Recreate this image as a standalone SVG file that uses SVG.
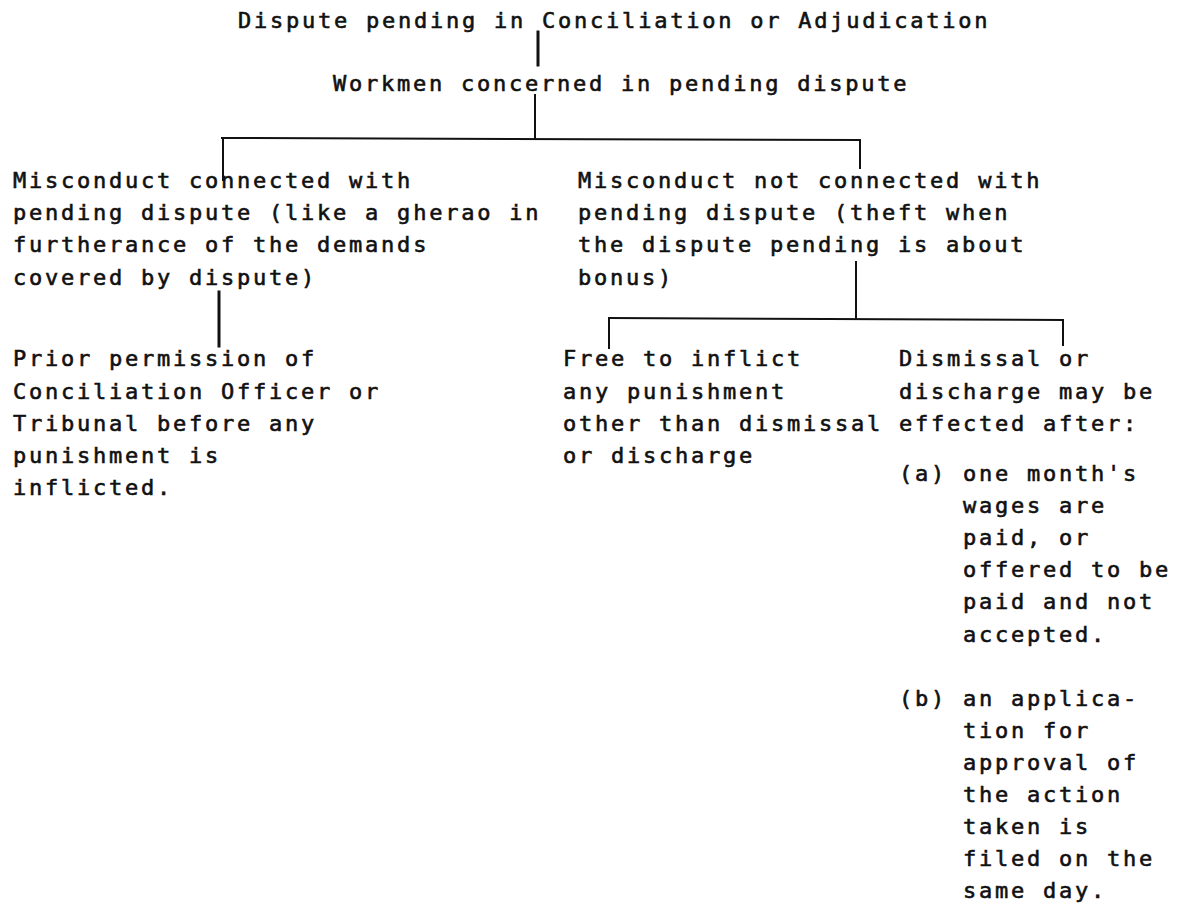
<svg xmlns="http://www.w3.org/2000/svg" width="1185" height="911" viewBox="0 0 1185 911">
<style>
text{font-family:"DejaVu Sans Mono","Liberation Mono",monospace;font-size:22px;letter-spacing:2.76px;fill:#111;stroke:#111;stroke-width:0.6px;}
.c{stroke:#111;stroke-width:2;fill:none;stroke-linecap:square}
.t{stroke-width:3}
</style>
<rect width="1185" height="911" fill="#fff"/>
<g id="connectors">
<line class="c t" x1="538" y1="32" x2="538" y2="65"/>
<line class="c" x1="535" y1="95" x2="535" y2="139"/>
<line class="c" x1="222" y1="138" x2="860" y2="140"/>
<line class="c" x1="223" y1="138" x2="223" y2="180"/>
<line class="c" x1="860" y1="140" x2="860" y2="168"/>
<line class="c t" x1="219" y1="292" x2="219" y2="346"/>
<line class="c" x1="856" y1="262" x2="856" y2="318"/>
<line class="c" x1="609" y1="318" x2="1063" y2="320"/>
<line class="c" x1="609" y1="318" x2="609" y2="348"/>
<line class="c" x1="1063" y1="320" x2="1063" y2="345"/>
</g>
<g id="n-dispute"><text x="238" y="28">Dispute pending in Conciliation or Adjudication</text></g>
<g id="n-workmen"><text x="333" y="91">Workmen concerned in pending dispute</text></g>
<g id="n-connected">
<text x="13" y="188">Misconduct connected with</text>
<text x="13" y="220">pending dispute (like a gherao in</text>
<text x="13" y="252">furtherance of the demands</text>
<text x="13" y="285">covered by dispute)</text>
</g>
<g id="n-notconnected">
<text x="578" y="188">Misconduct not connected with</text>
<text x="578" y="220">pending dispute (theft when</text>
<text x="578" y="252">the dispute pending is about</text>
<text x="578" y="285">bonus)</text>
</g>
<g id="n-prior">
<text x="13" y="366">Prior permission of</text>
<text x="13" y="399">Conciliation Officer or</text>
<text x="13" y="431">Tribunal before any</text>
<text x="13" y="463">punishment is</text>
<text x="13" y="495">inflicted.</text>
</g>
<g id="n-free">
<text x="563" y="366">Free to inflict</text>
<text x="563" y="399">any punishment</text>
<text x="563" y="431">other than dismissal</text>
<text x="563" y="463">or discharge</text>
</g>
<g id="n-dismissal">
<text x="899" y="366">Dismissal or</text>
<text x="899" y="399">discharge may be</text>
<text x="899" y="431">effected after:</text>
<text x="899" y="481">(a)</text>
<text x="963" y="481">one month's</text>
<text x="963" y="513">wages are</text>
<text x="963" y="545">paid, or</text>
<text x="963" y="577">offered to be</text>
<text x="963" y="609">paid and not</text>
<text x="963" y="642">accepted.</text>
<text x="899" y="706">(b)</text>
<text x="963" y="706">an applica-</text>
<text x="963" y="738">tion for</text>
<text x="963" y="770">approval of</text>
<text x="963" y="802">the action</text>
<text x="963" y="834">taken is</text>
<text x="963" y="866">filed on the</text>
<text x="963" y="898">same day.</text>
</g>
</svg>
